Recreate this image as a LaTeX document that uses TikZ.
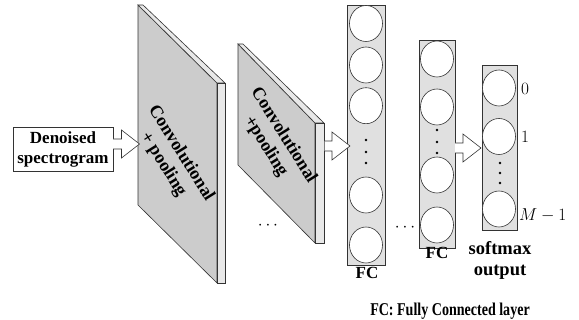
\documentclass[tikz,border=0pt]{standalone}
\usepackage[no-math]{fontspec}
\setmainfont{Liberation Serif}
\usetikzlibrary{calc,shapes.geometric}
\newcommand\hollowarrow[2]{\draw[harrow] let \p1=(#1), \p2=(#2) in
  (\x1,\y1+5pt) -- (\x2-18pt,\y1+5pt) -- (\x2-18pt,\y1+14pt) -- (\x2,\y1)
  -- (\x2-18pt,\y1-14pt) -- (\x2-18pt,\y1-5pt) -- (\x1,\y1-5pt);}
\begin{document}
\begin{tikzpicture}[x=1pt,y=-1pt,
  lbl/.style={font=\bfseries\fontsize{17}{20}\selectfont, inner sep=0},
  plbl/.style={font=\bfseries\fontsize{18}{21}\selectfont, inner sep=0},
  slbl/.style={font=\bfseries\fontsize{18.5}{21}\selectfont, inner sep=0},
  mlbl/.style={font=\fontsize{17}{20}\selectfont, inner sep=0},
  edge/.style={draw=black!80, line width=0.6pt},
  face/.style={edge, fill=black!20},
  side/.style={edge, fill=black!9},
  colbox/.style={edge, fill=black!12, rectangle, inner sep=0},
  neuron/.style={edge, fill=white, ellipse, inner sep=0, minimum width=33pt, minimum height=36pt},
  vdot/.style={fill=black, circle, inner sep=0, minimum size=2.6pt},
  harrow/.style={edge, fill=white, line join=miter}
]
\useasboundingbox (0,0) rectangle (579,320);

% input box
\node[edge, fill=white, minimum width=100pt, minimum height=44pt, align=center,
      font=\bfseries\fontsize{17}{20}\selectfont, inner sep=0] (input) at (63,149) {Denoised\\spectrogram};

% panel 1
\draw[face] (138,5) -- (217,83) -- (217,283) -- (138,205) -- cycle;
\draw[side] (217,83) -- (225,83) -- (225,283) -- (217,283) -- cycle;
\draw[side] (138,5) -- (143,5) -- (225,83) -- (217,83) -- cycle;
\node[plbl, rotate=-58, align=center] (conv1) at (172,159) {Convolutional\\+ pooling};

% panel 2
\draw[face] (238,44) -- (315,123) -- (315,243) -- (238,165) -- cycle;
\draw[side] (315,123) -- (324,123) -- (324,243) -- (315,243) -- cycle;
\draw[side] (238,44) -- (243,44) -- (324,123) -- (315,123) -- cycle;
\node[plbl, rotate=-58, align=center] (conv2) at (274.5,141) {Convolutional\\+pooling};

\node[mlbl] (dots1) at (268,226) {$\cdots$};

% FC1
\node[colbox, minimum width=38pt, minimum height=260pt] (fc1) at (366,135) {};
\foreach \y [count=\i] in {23.5,65,105.7,195,245}
  \node[neuron] (fa\i) at (366,\y) {};
\foreach \y [count=\i] in {140,152,163}
  \node[vdot] (fad\i) at (366,\y) {};
\node[lbl, anchor=base] (fc1lbl) at (367,279) {FC};

\node[mlbl] (dots2) at (405,228) {$\cdots$};

% FC2
\node[colbox, minimum width=36pt, minimum height=208pt] (fc2) at (437,144) {};
\foreach \y [count=\i] in {59,107,175,225}
  \node[neuron] (fb\i) at (437,\y) {};
\foreach \y [count=\i] in {130,142,153}
  \node[vdot] (fbd\i) at (437,\y) {};
\node[lbl, anchor=base] (fc2lbl) at (437,259) {FC};

% softmax
\node[colbox, minimum width=35pt, minimum height=165pt] (sm) at (499.5,147.5) {};
\foreach \y [count=\i] in {88,136.5,209}
  \node[neuron] (sc\i) at (499,\y) {};
\foreach \y [count=\i] in {163,173,183}
  \node[vdot] (scd\i) at (500,\y) {};
\node[mlbl, anchor=base west] (o0) at (521,95) {$0$};
\node[mlbl, anchor=base west] (o1) at (521,142.5) {$1$};
\node[mlbl, anchor=base west] (o2) at (519,221) {$M-1$};
\node[slbl, anchor=base] (smlbl) at (500,255) {softmax};
\node[slbl, anchor=base] (outlbl) at (500,276) {output};

\node[font=\bfseries\fontsize{18}{21}\selectfont, inner sep=0, anchor=base] (legend) at (450,316) {\scalebox{0.78}[1]{FC: Fully Connected layer}};

% arrows
\coordinate (a1s) at (113,144);
\coordinate (a1e) at (139.5,144);
\coordinate (a2s) at (324.5,146);
\coordinate (a2e) at (350,146);
\coordinate (a3s) at (455,148);
\coordinate (a3e) at (481,148);
\hollowarrow{a1s}{a1e}
\hollowarrow{a2s}{a2e}
\hollowarrow{a3s}{a3e}
\end{tikzpicture}
\end{document}
